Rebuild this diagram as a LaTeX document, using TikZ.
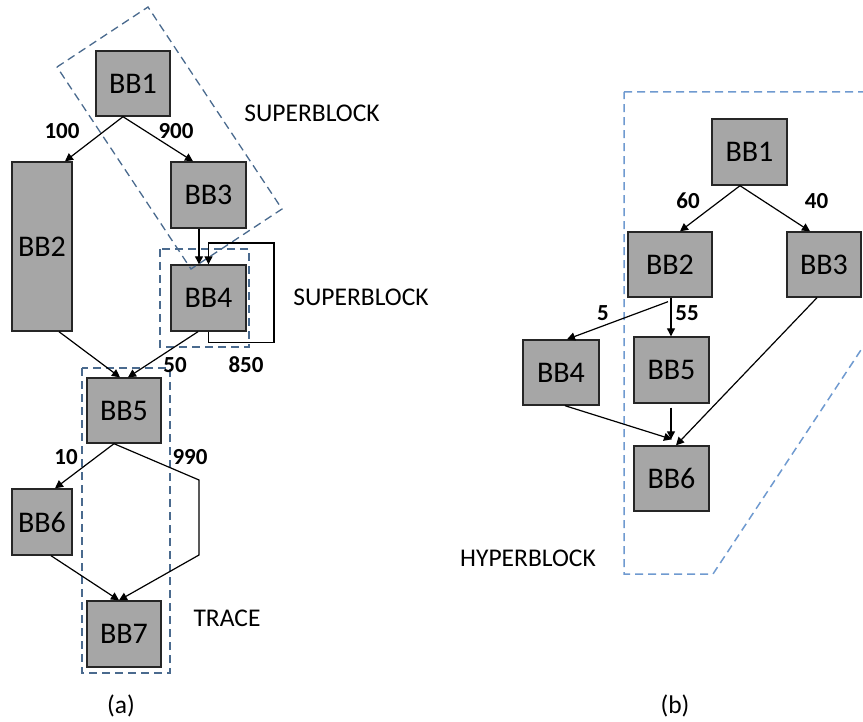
\documentclass[tikz,border=0pt]{standalone}
\usepackage{fontspec}
\setmainfont{Carlito}
\usetikzlibrary{arrows.meta}
\definecolor{blockgray}{HTML}{A6A6A6}
\definecolor{blockedge}{HTML}{262626}
\definecolor{regionA}{HTML}{4A6A8E}
\definecolor{regionB}{HTML}{6F9AD0}
\tikzset{
  bb/.style={draw=blockedge, fill=blockgray, line width=1.4pt, inner sep=0pt,
             font=\fontsize{30}{32}\selectfont},
  edge/.style={line width=1.2pt, -{Triangle[length=8pt,width=8pt]}},
  freq/.style={font=\fontsize{23}{25}\selectfont\bfseries, inner sep=0pt},
  tag/.style={font=\fontsize{25.5}{27}\selectfont, inner sep=0pt},
  regA/.style={draw=regionA, line width=1.3pt, dash pattern=on 8pt off 5pt},
  regB/.style={draw=regionB, line width=1.5pt, dash pattern=on 8pt off 5pt}
}
\begin{document}
\begin{tikzpicture}[x=1pt,y=-1pt]
\useasboundingbox (0,0) rectangle (863,722);
\clip (0,0) rectangle (863,722);

% ---------- (a) superblocks and trace ----------
\node[bb, minimum width=74pt, minimum height=65pt] (a1) at (133,83.5) {BB1};
\node[bb, minimum width=60pt, minimum height=169pt] (a2) at (42,246.5) {BB2};
\node[bb, minimum width=75pt, minimum height=66pt] (a3) at (208.5,195) {BB3};
\node[bb, minimum width=75pt, minimum height=66pt] (a4) at (208.5,298) {BB4};
\node[bb, minimum width=74pt, minimum height=65pt] (a5) at (124,410.5) {BB5};
\node[bb, minimum width=60pt, minimum height=66pt] (a6) at (42,522) {BB6};
\node[bb, minimum width=74pt, minimum height=66pt] (a7) at (124,634) {BB7};

% region outlines
\draw[regA] (57,67) -- (148,7) -- (282,209) -- (191,269) -- cycle;
\draw[regA] (160,249) rectangle (249,347);
\draw[regA] (82,368) rectangle (170,673);

% control flow
\draw[edge] ([xshift=-10pt]a1.south) -- ([xshift=23pt]a2.north);
\draw[edge] ([xshift=-10pt]a1.south) -- ([xshift=-15.5pt]a3.north);
\draw[edge] ([xshift=-9.5pt]a3.south) -- ([xshift=-9.5pt]a4.north);
\coordinate (loopa) at (274,243);
\draw[edge] (a4.south) -- ++(0,11) -| (loopa) -| (a4.north);
\draw[edge] ([xshift=17pt]a2.south) -- ([xshift=-4pt]a5.north);
\draw[edge] ([xshift=-10.5pt]a4.south) -- ([xshift=4pt]a5.north);
\draw[edge] ([xshift=-10pt]a5.south) -- ([xshift=13pt]a6.north);
\coordinate (bendA) at (199,480);
\coordinate (bendB) at (199,555);
\draw[edge] ([xshift=-10pt]a5.south) -- (bendA) -- (bendB) -- ([xshift=-5pt]a7.north);
\draw[edge] ([xshift=9pt]a6.south) -- ([xshift=-5pt]a7.north);

% labels
\node[freq] (f100) at (62,131) {100};
\node[freq] (f900) at (176,131) {900};
\node[freq] (f50) at (175,365) {50};
\node[freq] (f850) at (246,365) {850};
\node[freq] (f10) at (66,457) {10};
\node[freq] (f990) at (190,457) {990};
\node[tag] (sb1) at (312,113) {SUPERBLOCK};
\node[tag] (sb2) at (361,297) {SUPERBLOCK};
\node[tag] (tr) at (227,618) {TRACE};
\node[tag] (capa) at (121,706) {(a)};

% ---------- (b) hyperblock ----------
\node[bb, minimum width=75pt, minimum height=66pt] (b1) at (749.5,152) {BB1};
\node[bb, minimum width=84pt, minimum height=65pt] (b2) at (670,264.5) {BB2};
\node[bb, minimum width=74pt, minimum height=65pt] (b3) at (824,264.5) {BB3};
\node[bb, minimum width=76pt, minimum height=65pt] (b4) at (561,372.5) {BB4};
\node[bb, minimum width=75pt, minimum height=66pt] (b5) at (671.5,370) {BB5};
\node[bb, minimum width=75pt, minimum height=65pt] (b6) at (671.5,478.5) {BB6};

\draw[regB] (624,92) -- (890,92) -- (890,306) -- (713,574) -- (624,574) -- cycle;

\draw[edge] ([xshift=-9.5pt]b1.south) -- ([xshift=10pt]b2.north);
\draw[edge] ([xshift=-9.5pt]b1.south) -- ([xshift=-14pt]b3.north);
\draw[edge] ([xshift=-2pt,yshift=-4pt]b2.south) -- ([xshift=6pt]b4.north);
\draw[edge] ([xshift=1pt]b2.south) -- ([xshift=-0.5pt]b5.north);
\draw[edge] ([xshift=-7pt]b3.south) -- ([xshift=4.5pt]b6.north);
\draw[edge] ([xshift=4pt]b4.south) -- ([xshift=0.5pt,yshift=6pt]b6.north);
\draw[edge] ([xshift=-0.5pt,yshift=-4pt]b5.south) -- ([xshift=-0.5pt,yshift=6pt]b6.north);

\node[freq] (f60) at (688,201) {60};
\node[freq] (f40) at (816.5,201) {40};
\node[freq] (f5) at (603,313) {5};
\node[freq] (f55) at (687,313) {55};
\node[tag] (hb) at (528,558) {HYPERBLOCK};
\node[tag] (capb) at (675,706) {(b)};
\end{tikzpicture}
\end{document}
